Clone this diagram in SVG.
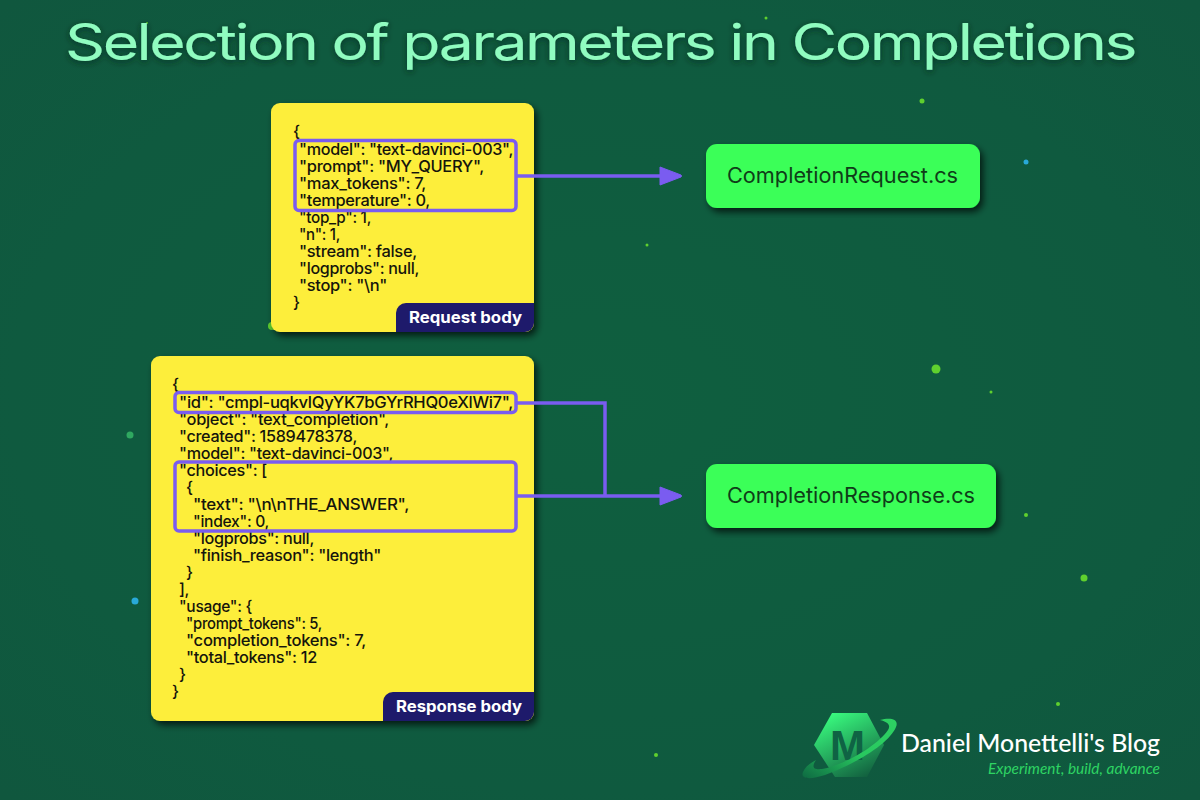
<svg xmlns="http://www.w3.org/2000/svg" width="1200" height="800" viewBox="0 0 1200 800">
<defs>
<radialGradient id="bg" cx="50%" cy="50%" r="70%"><stop offset="0" stop-color="#0f5f3f"/><stop offset="0.7" stop-color="#0f5a3f"/><stop offset="1" stop-color="#10573e"/></radialGradient>
<linearGradient id="hex" x1="0.2" y1="0" x2="0.75" y2="1"><stop offset="0" stop-color="#3aff80"/><stop offset="1" stop-color="#12603f"/></linearGradient>
<linearGradient id="ring" x1="0" y1="1" x2="1" y2="0"><stop offset="0" stop-color="#0e6a42"/><stop offset="0.5" stop-color="#28c85f"/><stop offset="1" stop-color="#2ed163"/></linearGradient>
<filter id="sh" x="-10%" y="-10%" width="125%" height="125%"><feDropShadow dx="3" dy="4" stdDeviation="3.500" flood-color="#000" flood-opacity="0.7"/></filter>
<filter id="glow" x="-5%" y="-30%" width="110%" height="160%"><feDropShadow dx="0" dy="2" stdDeviation="3" flood-color="#042a1b" flood-opacity="0.75"/></filter>
<marker id="arr" markerUnits="userSpaceOnUse" markerWidth="26" markerHeight="24" refX="2" refY="12" orient="auto"><path d="M2 3 L23 11 Q24 12 23 13 L2 21 Z" fill="#7a5cf0" stroke="#7a5cf0" stroke-width="1" stroke-linejoin="round"/></marker>
</defs>
<style>
.code{font-family:Inter,"Liberation Sans",sans-serif;font-size:16px;font-weight:500;fill:#15150c;letter-spacing:-0.3px}
.tag{font-family:Inter,"Liberation Sans",sans-serif;font-size:15.500px;font-weight:700;fill:#fff}
.name{font-family:Inter,"Liberation Sans",sans-serif;font-size:21.500px;font-weight:400;fill:#0f3d18}
.box{fill:none;stroke:#7a5cf0;stroke-width:3.5}
.conn{fill:none;stroke:#7a5cf0;stroke-width:3.5}
.dot{fill:#5fd02e}
.dotb{fill:#29a9d8}
.dotg{fill:#2fa860}
</style>
<rect width="1200" height="800" fill="url(#bg)"/>
<g id="specks">
<circle class="dot" cx="922" cy="101" r="2.5"/><circle class="dotb" cx="1026" cy="162" r="2.5"/><circle class="dot" cx="647" cy="245" r="1.5"/><circle class="dot" cx="936" cy="369" r="4.5"/><circle class="dot" cx="991" cy="392" r="1.5"/><circle class="dotg" cx="130" cy="435" r="3.5"/><circle class="dot" cx="1026" cy="515" r="2"/><circle class="dot" cx="1084" cy="578" r="3.5"/><circle class="dotb" cx="135" cy="601" r="3.5"/><circle class="dot" cx="1058" cy="704" r="2"/><circle class="dot" cx="656" cy="755" r="2"/><circle class="dot" cx="766" cy="18" r="1.5"/><circle class="dot" cx="147" cy="23" r="1"/><circle class="dot" cx="272" cy="326" r="4"/>
</g>
<text id="title" x="65" y="60" textLength="1070" lengthAdjust="spacingAndGlyphs" filter="url(#glow)" font-family="Inter,'Liberation Sans',sans-serif" font-size="50" font-weight="400" letter-spacing="-2" fill="#90fcc0">Selection of parameters in Completions</text>

<g id="request-body">
<rect x="271" y="103" width="263" height="229" rx="9" fill="#fdee3b" filter="url(#sh)"/>
<text class="code" xml:space="preserve"><tspan x="293" y="137">{</tspan><tspan x="299" y="155" textLength="214" lengthAdjust="spacingAndGlyphs">"model": "text-davinci-003",</tspan><tspan x="299" y="172" textLength="185" lengthAdjust="spacingAndGlyphs">"prompt": "MY_QUERY",</tspan><tspan x="299" y="189" textLength="127" lengthAdjust="spacingAndGlyphs">"max_tokens": 7,</tspan><tspan x="299" y="206" textLength="131" lengthAdjust="spacingAndGlyphs">"temperature": 0,</tspan><tspan x="299" y="223" textLength="72" lengthAdjust="spacingAndGlyphs">"top_p": 1,</tspan><tspan x="299" y="240" textLength="41" lengthAdjust="spacingAndGlyphs">"n": 1,</tspan><tspan x="299" y="257" textLength="118" lengthAdjust="spacingAndGlyphs">"stream": false,</tspan><tspan x="299" y="274" textLength="120" lengthAdjust="spacingAndGlyphs">"logprobs": null,</tspan><tspan x="299" y="291" textLength="88" lengthAdjust="spacingAndGlyphs">"stop": "\n"</tspan><tspan x="293" y="308">}</tspan></text>
<path d="M396 332V313a10 10 0 0 1 10-10H534V323a9 9 0 0 1-9 9Z" fill="#1e1a6b"/>
<text class="tag" x="409" y="323" textLength="113" lengthAdjust="spacingAndGlyphs">Request body</text>
</g>

<g id="response-body">
<rect x="151" y="356" width="383" height="365" rx="9" fill="#fdee3b" filter="url(#sh)"/>
<text class="code" xml:space="preserve"><tspan x="172" y="390">{</tspan><tspan x="179" y="408" textLength="334" lengthAdjust="spacingAndGlyphs">"id": "cmpl-uqkvlQyYK7bGYrRHQ0eXlWi7",</tspan><tspan x="179" y="425" textLength="210" lengthAdjust="spacingAndGlyphs">"object": "text_completion",</tspan><tspan x="179" y="442" textLength="178" lengthAdjust="spacingAndGlyphs">"created": 1589478378,</tspan><tspan x="179" y="459" textLength="214" lengthAdjust="spacingAndGlyphs">"model": "text-davinci-003",</tspan><tspan x="179" y="476" textLength="88" lengthAdjust="spacingAndGlyphs">"choices": [</tspan><tspan x="186" y="493">{</tspan><tspan x="193" y="510" textLength="216" lengthAdjust="spacingAndGlyphs">"text": "\n\nTHE_ANSWER",</tspan><tspan x="193" y="527" textLength="76" lengthAdjust="spacingAndGlyphs">"index": 0,</tspan><tspan x="193" y="544" textLength="121" lengthAdjust="spacingAndGlyphs">"logprobs": null,</tspan><tspan x="193" y="561" textLength="188" lengthAdjust="spacingAndGlyphs">"finish_reason": "length"</tspan><tspan x="186" y="578">}</tspan><tspan x="179" y="595">],</tspan><tspan x="179" y="612" textLength="73" lengthAdjust="spacingAndGlyphs">"usage": {</tspan><tspan x="186" y="629" textLength="136" lengthAdjust="spacingAndGlyphs">"prompt_tokens": 5,</tspan><tspan x="186" y="646" textLength="180" lengthAdjust="spacingAndGlyphs">"completion_tokens": 7,</tspan><tspan x="186" y="663" textLength="131" lengthAdjust="spacingAndGlyphs">"total_tokens": 12</tspan><tspan x="179" y="680">}</tspan><tspan x="172" y="697">}</tspan></text>
<path d="M383 721V702a10 10 0 0 1 10-10H534V712a9 9 0 0 1-9 9Z" fill="#1e1a6b"/>
<text class="tag" x="396" y="712" textLength="126" lengthAdjust="spacingAndGlyphs">Response body</text>
</g>

<g id="completion-request">
<rect x="706" y="144" width="274" height="64" rx="11" fill="#3aff58" filter="url(#sh)"/>
<text class="name" x="727" y="183" textLength="231" lengthAdjust="spacingAndGlyphs">CompletionRequest.cs</text>
</g>
<g id="completion-response">
<rect x="706" y="464" width="290" height="64" rx="11" fill="#3aff58" filter="url(#sh)"/>
<text class="name" x="727" y="503" textLength="248" lengthAdjust="spacingAndGlyphs">CompletionResponse.cs</text>
</g>

<g id="connectors">
<rect class="box" x="295" y="140.500" width="221" height="70" rx="4"/>
<rect class="box" x="175" y="392.500" width="341" height="20" rx="4"/>
<rect class="box" x="175" y="462" width="341" height="69" rx="4"/>
<path class="conn" d="M516 176H660" marker-end="url(#arr)"/>
<path class="conn" d="M516 403H605V496"/>
<path class="conn" d="M516 496H660" marker-end="url(#arr)"/>
</g>

<g id="logo">
<path d="M832 713H867L884 745L867 777H835L814 745Z" fill="url(#hex)"/>
<text x="830" y="760" font-family="'Liberation Sans',sans-serif" font-size="42" font-weight="700" fill="#0f6344">M</text>
<path d="M880 720C892 717 899 720 896 727C890 742 860 762 825 775C810 780 800 779 803 772C805 767 810 763 816 760C812 766 812 770 822 769C845 765 878 745 888 730C891 725 888 722 880 720Z" fill="url(#ring)"/>
<text x="901" y="752" textLength="259" lengthAdjust="spacingAndGlyphs" font-family="Lato,'Noto Sans',sans-serif" font-size="24" font-weight="500" fill="#fff">Daniel Monettelli's Blog</text>
<text x="988" y="774" textLength="172" lengthAdjust="spacingAndGlyphs" font-family="Lato,'Noto Sans',sans-serif" font-size="15" font-style="italic" fill="#2ed463">Experiment, build, advance</text>
</g>
</svg>
